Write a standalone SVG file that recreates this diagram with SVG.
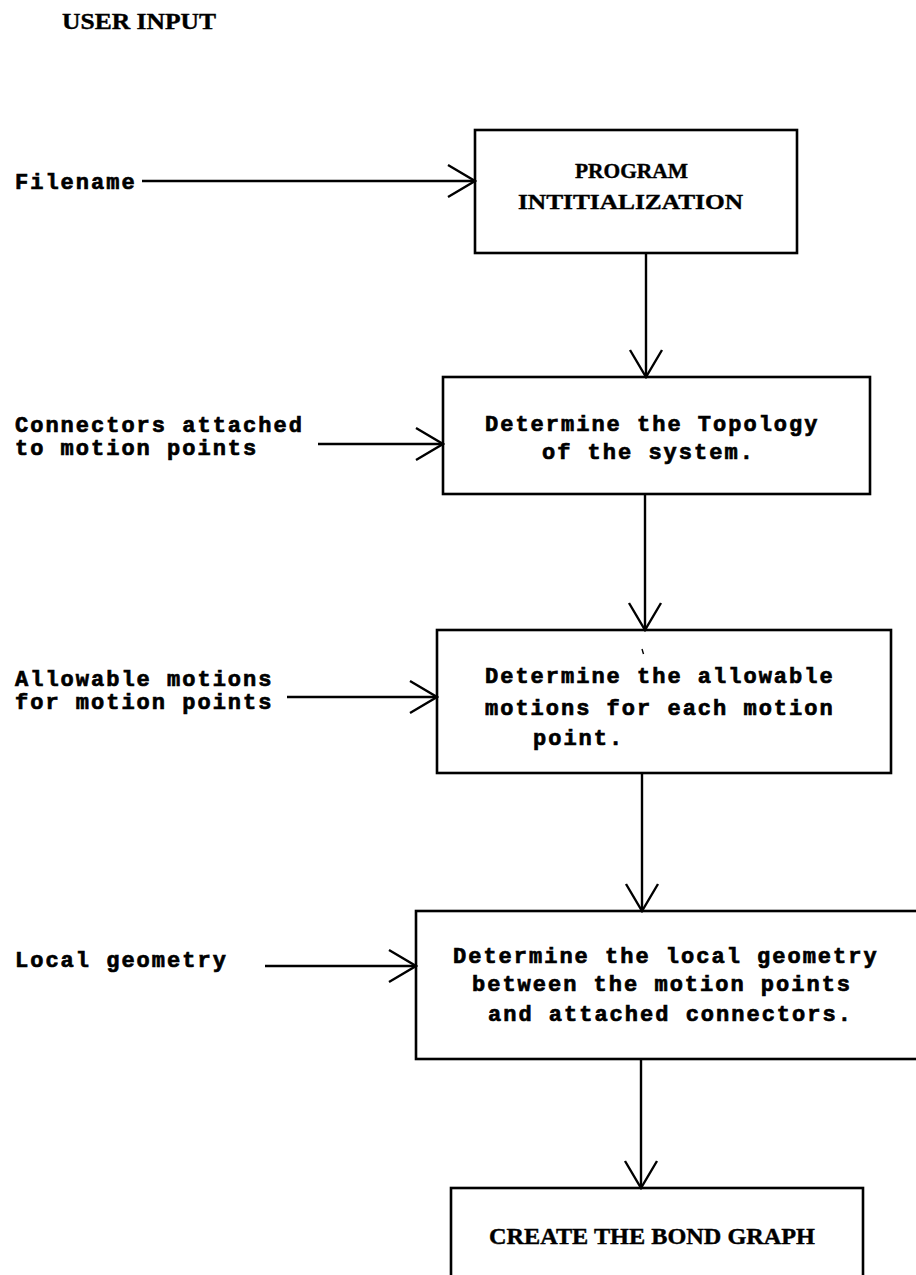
<svg xmlns="http://www.w3.org/2000/svg" width="916" height="1275" viewBox="0 0 916 1275">
  <defs>
    <style>
      .box { fill: none; stroke: #000; stroke-width: 2.6; }
      .edge { fill: none; stroke: #000; stroke-width: 2.4; }
      .tw { font-family: "Liberation Mono", "Courier New", monospace; font-weight: bold; font-size: 22px; letter-spacing: 2px; fill: #000; stroke: #000; stroke-width: 0.7px; }
      .cap { font-family: "Liberation Serif", "Times New Roman", serif; font-weight: bold; fill: #000; stroke: #000; stroke-width: 0.4px; }
    </style>
    <marker id="vee" markerUnits="userSpaceOnUse" viewBox="-30 -20 32 40" refX="0" refY="0" markerWidth="32" markerHeight="40" orient="auto">
      <path d="M-27,-16 L0,0 L-27,16" fill="none" stroke="#000" stroke-width="2.4"/>
    </marker>
  </defs>
  <rect width="916" height="1275" fill="#fff"/>

  <text class="cap" x="62" y="29" font-size="24" textLength="154" lengthAdjust="spacingAndGlyphs">USER  INPUT</text>

  <!-- input labels -->
  <g id="in-filename"><text class="tw" x="15" y="189">Filename</text></g>
  <g id="in-connectors">
    <text class="tw" x="15" y="432">Connectors attached</text>
    <text class="tw" x="15" y="455">to motion points</text>
  </g>
  <g id="in-motions">
    <text class="tw" x="15" y="686">Allowable motions</text>
    <text class="tw" x="15" y="709">for motion points</text>
  </g>
  <g id="in-geometry"><text class="tw" x="15" y="967">Local geometry</text></g>

  <!-- process boxes -->
  <g id="init">
    <rect class="box" x="475" y="130" width="322" height="123"/>
    <text class="cap" x="575" y="178" font-size="22" textLength="113" lengthAdjust="spacingAndGlyphs">PROGRAM</text>
    <text class="cap" x="518" y="209" font-size="22" textLength="225" lengthAdjust="spacingAndGlyphs">INTITIALIZATION</text>
  </g>
  <g id="topology">
    <rect class="box" x="443" y="377" width="427" height="117"/>
    <text class="tw" x="485" y="431">Determine the Topology</text>
    <text class="tw" x="542" y="459">of the system.</text>
  </g>
  <g id="motions">
    <rect class="box" x="437" y="630" width="454" height="143"/>
    <path d="M642,649 L643.5,654" fill="none" stroke="#000" stroke-width="1.4"/>
    <text class="tw" x="485" y="683">Determine the allowable</text>
    <text class="tw" x="485" y="715">motions for each motion</text>
    <text class="tw" x="533" y="745">point.</text>
  </g>
  <g id="geometry">
    <rect class="box" x="416" y="911" width="504" height="148"/>
    <text class="tw" x="453" y="963">Determine the local geometry</text>
    <text class="tw" x="472" y="991">between the motion points</text>
    <text class="tw" x="488" y="1021">and attached connectors.</text>
  </g>
  <g id="bond-graph">
    <rect class="box" x="451" y="1188" width="412" height="100"/>
    <text class="cap" x="489" y="1244" font-size="23" textLength="326" lengthAdjust="spacingAndGlyphs">CREATE  THE  BOND  GRAPH</text>
  </g>

  <!-- connectors -->
  <g id="connectors">
    <line class="edge" x1="142" y1="181" x2="475" y2="181" marker-end="url(#vee)"/>
    <line class="edge" x1="318" y1="444" x2="443" y2="444" marker-end="url(#vee)"/>
    <line class="edge" x1="287" y1="697" x2="437" y2="697" marker-end="url(#vee)"/>
    <line class="edge" x1="265" y1="966" x2="416" y2="966" marker-end="url(#vee)"/>
    <line class="edge" x1="646" y1="253" x2="646" y2="377" marker-end="url(#vee)"/>
    <line class="edge" x1="645" y1="494" x2="645" y2="630" marker-end="url(#vee)"/>
    <line class="edge" x1="642" y1="773" x2="642" y2="911" marker-end="url(#vee)"/>
    <line class="edge" x1="641" y1="1059" x2="641" y2="1188" marker-end="url(#vee)"/>
  </g>
</svg>
